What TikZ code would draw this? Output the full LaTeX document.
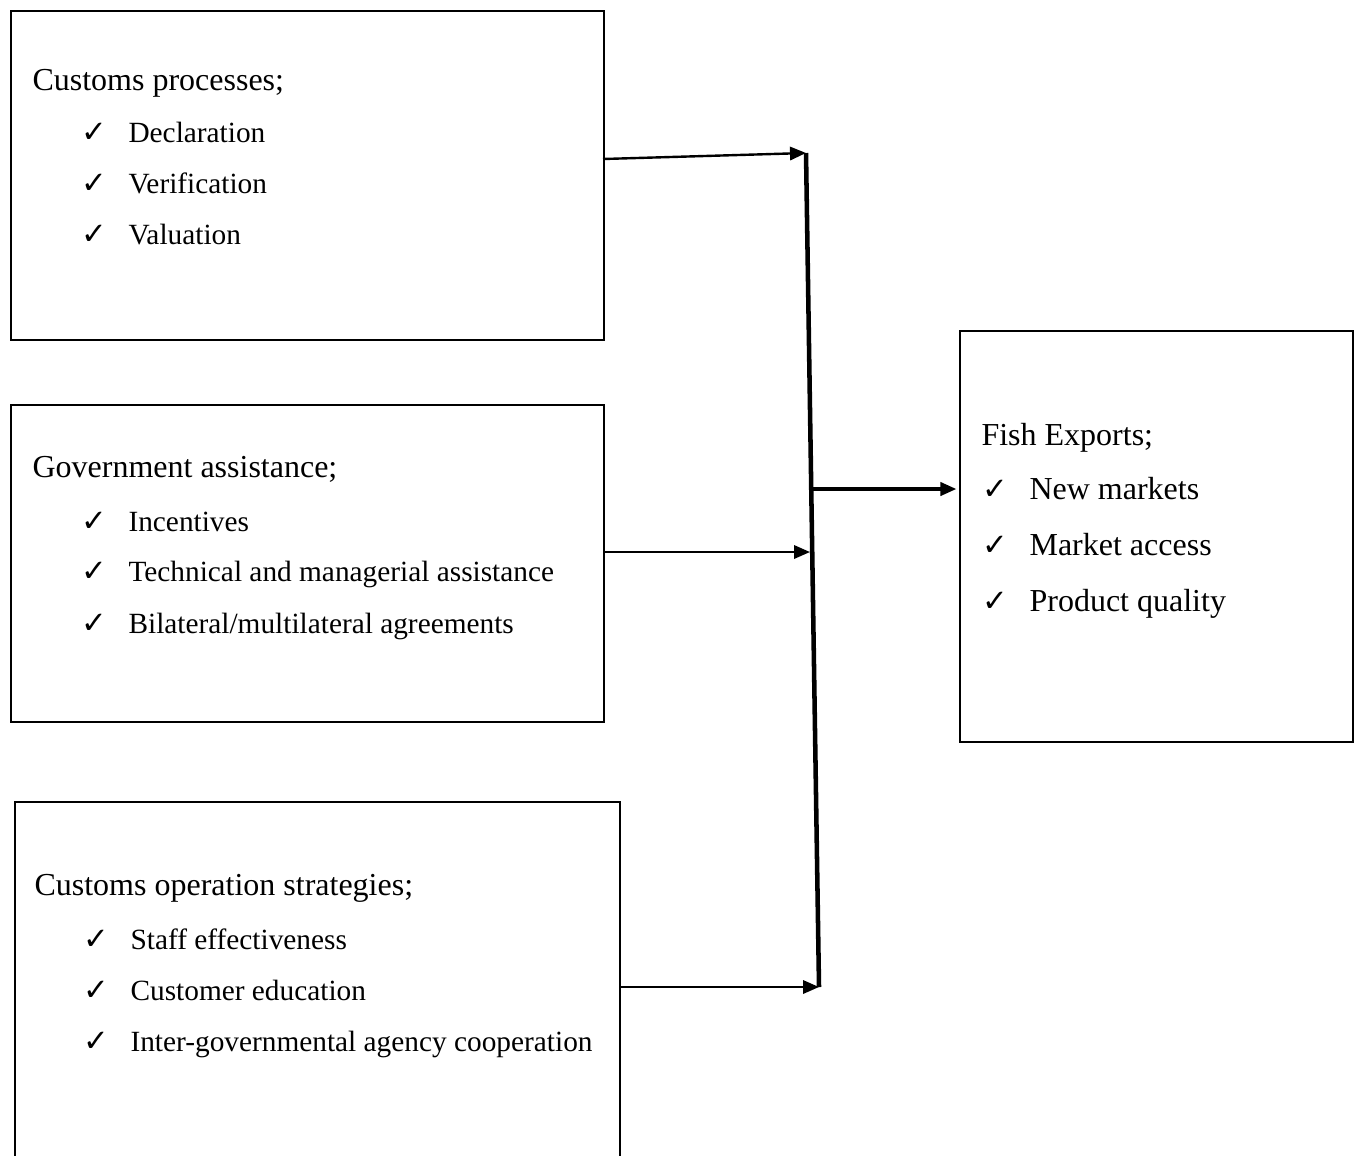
\documentclass[tikz,border=0pt]{standalone}
\usepackage{fontspec}
\setmainfont{Liberation Serif}
\newfontfamily\tickfont{DejaVu Sans}
\usetikzlibrary{arrows.meta,positioning}
\tikzset{
  >={Triangle[length=6pt,width=5pt]},
  box/.style={draw,line width=0.75pt,anchor=north west,inner sep=0pt},
  txt/.style={anchor=base west,inner sep=0pt,font=\fontsize{12}{14}\selectfont},
  itm/.style={anchor=base west,inner sep=0pt,font=\fontsize{11}{13}\selectfont},
  tick/.style={anchor=base west,inner sep=0pt,font=\tickfont\fontsize{11.5}{13}\selectfont},
  feed/.style={->,line width=0.9pt},
  emit/.style={->,line width=1.2pt,shorten >=1pt},
  bus/.style={line width=1.7pt},
}

\begin{document}
\begin{tikzpicture}[x=0.375pt,y=-0.375pt]
  \useasboundingbox (0,0) rectangle (1354,1155);
  \clip (0,0) rectangle (1354,1155);
  % boxes
  \node[box,minimum width=593*0.375pt,minimum height=329*0.375pt] (proc) at (10,10) {};
  \node[box,minimum width=593*0.375pt,minimum height=317*0.375pt] (gov) at (10,404) {};
  \node[box,minimum width=605*0.375pt,minimum height=400*0.375pt] (ops) at (14,801) {};
  \node[box,minimum width=393*0.375pt,minimum height=411*0.375pt] (fish) at (959,330) {};
  % texts
  \node[txt] (proctitle) at (32,90) {Customs processes;};
  \foreach \y/\t in {142/Declaration,193/Verification,244/Valuation}{
    \node[tick] (procck\y) at (81,\y) {✓};
    \node[itm] (procit\y) at (128,\y) {\t};
  }
  \node[txt] (govtitle) at (32,477) {Government assistance;};
  \foreach \y/\t in {531/Incentives,581/Technical and managerial assistance,633/{Bilateral/multilateral agreements}}{
    \node[tick] (govck\y) at (81,\y) {✓};
    \node[itm] (govit\y) at (128,\y) {\t};
  }
  \node[txt] (opstitle) at (34,895) {Customs operation strategies;};
  \foreach \y/\t in {949/Staff effectiveness,1000/Customer education,1051/Inter-governmental agency cooperation}{
    \node[tick] (opsck\y) at (83,\y) {✓};
    \node[itm] (opsit\y) at (130,\y) {\t};
  }
  \node[txt] (fishtitle) at (981,445) {Fish Exports;};
  \foreach \y/\t in {499/New markets,555/Market access,611/Product quality}{
    \node[tick] (fishck\y) at (982,\y) {✓};
    \node[txt] (fishit\y) at (1029,\y) {\t};
  }
  % connectors
  \coordinate (bustop) at (806,153);
  \coordinate (busbot) at (819,987);
  \coordinate (out1) at (603,159);
  \coordinate (in2) at (810,552);
  \coordinate (tap) at (812,489);
  \draw[bus] (bustop) -- (busbot);
  \draw[feed] (out1) -- (bustop);
  \draw[feed] (gov.east |- in2) -- (in2);
  \draw[feed] (ops.east |- busbot) -- (busbot);
  \draw[emit] (tap) -- (tap -| fish.west);
\end{tikzpicture}
\end{document}
